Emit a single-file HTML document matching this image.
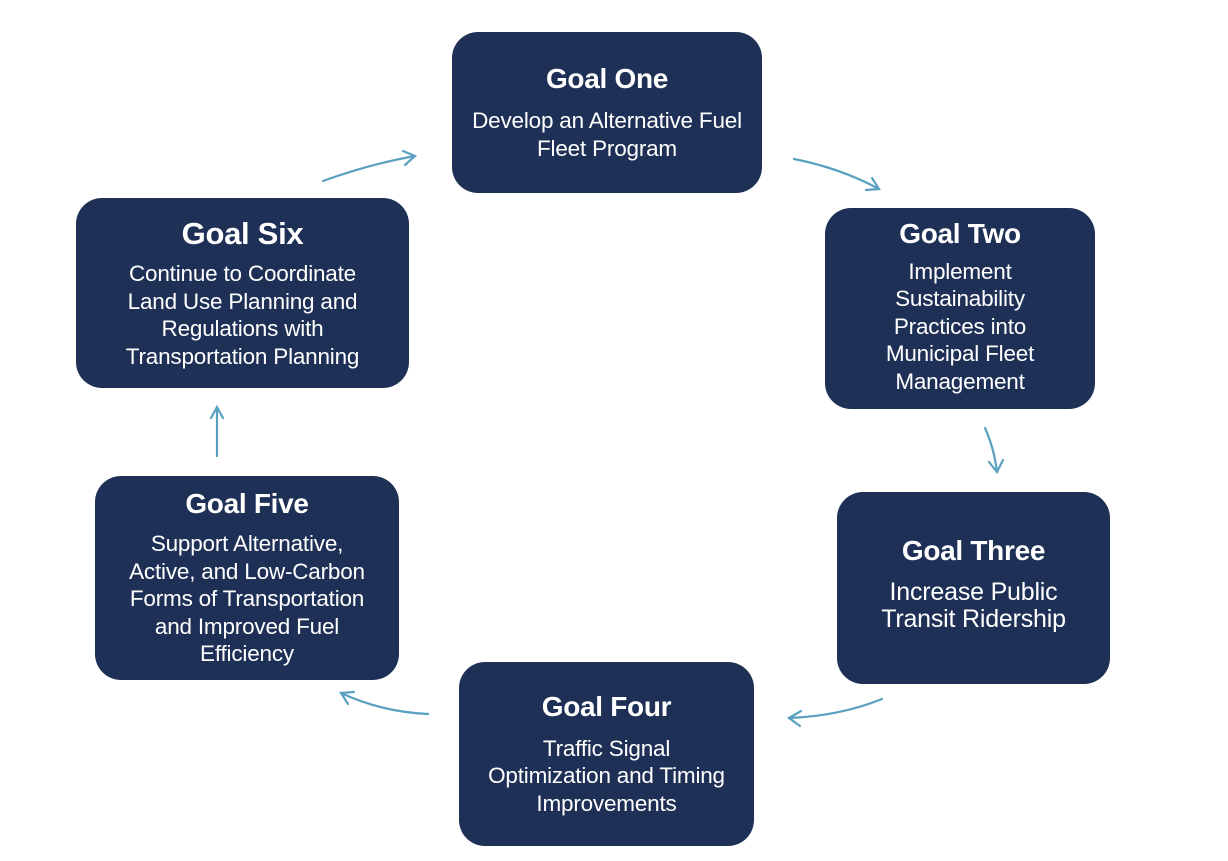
<!DOCTYPE html>
<html><head><style>
body{margin:0;width:1228px;height:861px;background:#fff;position:relative;font-family:"Liberation Sans",sans-serif;overflow:hidden}
.b{position:absolute;background:#1f3056;border-radius:26px;color:#fff;text-align:center;box-sizing:border-box;display:flex;flex-direction:column;justify-content:center}
.b h{display:block;font-weight:bold;font-size:28px;margin-bottom:12px;letter-spacing:-0.3px}
.b p{margin:0;font-size:22.5px;line-height:27.5px;letter-spacing:-0.2px;white-space:nowrap}
svg{position:absolute;left:0;top:0}
</style></head><body>
<div class="b" style="left:452px;top:32px;width:310px;height:161px"><h>Goal One</h><p>Develop an Alternative Fuel<br>Fleet Program</p></div>
<div class="b" style="left:825px;top:208px;width:270px;height:201px;padding-bottom:4px"><h style="margin-bottom:8px">Goal Two</h><p>Implement<br>Sustainability<br>Practices into<br>Municipal Fleet<br>Management</p></div>
<div class="b" style="left:837px;top:492px;width:273px;height:192px;padding-bottom:8px"><h>Goal Three</h><p style="font-size:25px">Increase Public<br>Transit Ridership</p></div>
<div class="b" style="left:459px;top:662px;width:295px;height:184px"><h>Goal Four</h><p>Traffic Signal<br>Optimization and Timing<br>Improvements</p></div>
<div class="b" style="left:95px;top:476px;width:304px;height:204px"><h style="margin-bottom:10px">Goal Five</h><p>Support Alternative,<br>Active, and Low-Carbon<br>Forms of Transportation<br>and Improved Fuel<br>Efficiency</p></div>
<div class="b" style="left:76px;top:198px;width:333px;height:190px"><h style="font-size:31px;margin-bottom:8px">Goal Six</h><p>Continue to Coordinate<br>Land Use Planning and<br>Regulations with<br>Transportation Planning</p></div>
<svg width="1228" height="861" fill="none" stroke="#5aa0c0" stroke-width="2.2" stroke-linecap="round">
<path d="M323 181 Q370 164 415 156"/><path d="M403 151 L415 156 L405 165"/>
<path d="M794 159 Q840 168 879 189"/><path d="M866 190 L879 189 L872 178"/>
<path d="M985 428 Q994 448 997 472"/><path d="M989 462 L997 472 L1003 460"/>
<path d="M882 699 Q840 716 789 718"/><path d="M801 711 L789 718 L800 726"/>
<path d="M428 714 Q382 712 341 693"/><path d="M354 692 L341 693 L348 704"/>
<path d="M217 456 L217 407"/><path d="M211 418 L217 407 L223 418"/>
</svg>
</body></html>
